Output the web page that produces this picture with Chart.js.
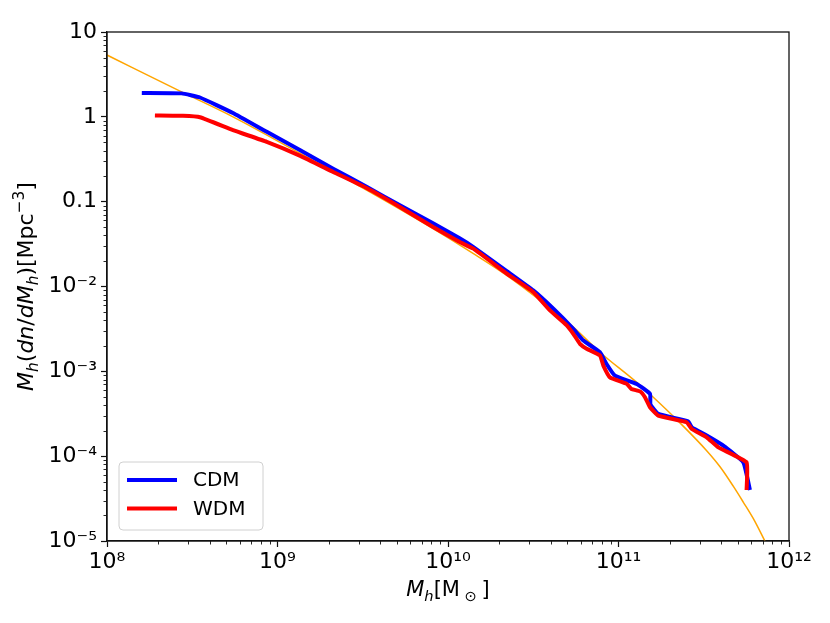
<!DOCTYPE html>
<html>
<head>
<meta charset="utf-8">
<script src="https://cdn.jsdelivr.net/npm/chart.js@4.4.1/dist/chart.umd.min.js"></script>
<style>
  html, body { margin: 0; padding: 0; background: #fff; }
  #wrap { width: 830px; height: 623px; }
</style>
</head>
<body>
<div id="wrap"><canvas id="hmf"></canvas></div>
<script>
// halo mass function
const cdmMass = [1.60e8, 2.74e8, 3.51e8, 5.48e8, 8.65e8, 1.36e9, 2.12e9, 3.35e9, 5.22e9, 8.17e9,
  1.17e10, 1.41e10, 2.21e10, 3.16e10, 4.15e10, 5.43e10, 6.22e10, 7.78e10, 8.51e10, 9.53e10,
  1.28e11, 1.53e11, 1.54e11, 1.71e11, 2.56e11, 2.69e11, 3.29e11, 4.12e11, 5.40e11, 5.90e11];
const cdmDens = [1.91, 1.89, 1.69, 1.11, 0.665, 0.405, 0.245, 0.149, 0.0906, 0.0556,
  0.0370, 0.0292, 0.0152, 9.0e-3, 5.47e-3, 3.17e-3, 2.31e-3, 1.68e-3, 1.22e-3, 8.9e-4,
  7.1e-4, 5.42e-4, 4.06e-4, 3.15e-4, 2.58e-4, 2.19e-4, 1.75e-4, 1.33e-4, 8.45e-5, 3.99e-5];

const wdmMass = [1.91e8, 2.79e8, 3.51e8, 5.48e8, 8.65e8, 1.36e9, 2.12e9, 3.35e9, 5.22e9, 8.17e9,
  1.17e10, 1.41e10, 2.21e10, 3.16e10, 3.96e10, 4.97e10, 5.43e10, 5.94e10, 6.50e10, 7.78e10,
  8.15e10, 8.91e10, 1.12e11, 1.19e11, 1.34e11, 1.43e11, 1.53e11, 1.71e11, 2.51e11, 2.69e11,
  3.29e11, 3.85e11, 5.64e11, 5.64e11];
const wdmDens = [1.04, 1.03, 0.99, 0.697, 0.507, 0.347, 0.224, 0.144, 0.0867, 0.0502,
  0.0334, 0.0279, 0.0142, 8.6e-3, 5.22e-3, 3.48e-3, 2.77e-3, 2.11e-3, 1.85e-3, 1.54e-3,
  1.17e-3, 8.5e-4, 7.1e-4, 6.2e-4, 5.8e-4, 4.94e-4, 3.77e-4, 3.0e-4, 2.51e-4, 2.09e-4,
  1.67e-4, 1.27e-4, 8.45e-5, 3.99e-5];

// orange fit curve
const fitMass = [1e8, 2.68e8, 5.48e8, 1.36e9, 3.35e9, 8.17e9, 1.41e10, 2.21e10, 3.47e10,
  5.43e10, 7.78e10, 1.28e11, 1.60e11, 2.34e11, 3.29e11, 3.94e11, 4.71e11, 5.40e11, 6.18e11, 7.33e11];
const fitDens = [5.35, 2.01, 1.0, 0.37, 0.136, 0.0481, 0.0244, 0.0135, 6.85e-3,
  3.32e-3, 1.68e-3, 7.4e-4, 4.94e-4, 2.37e-4, 1.16e-4, 7.5e-5, 4.43e-5, 2.86e-5, 1.83e-5, 9.4e-6];

const xMajor = [1e8, 1e9, 1e10, 1e11, 1e12];
const xLabels = ['10⁸', '10⁹', '10¹⁰', '10¹¹', '10¹²'];
const yMajor = [1e-5, 1e-4, 1e-3, 1e-2, 0.1, 1, 10];
const yLabels = ['10⁻⁵', '10⁻⁴', '10⁻³', '10⁻²', '0.1', '1', '10'];

const FONT = 'DejaVu Sans';

function pts(xs, ys) {
  return xs.map((x, i) => ({ x: x, y: ys[i] }));
}

// mixed italic / sub / sup text, centred on (0,0) baseline
function drawRich(ctx, parts, size) {
  const fontOf = p => (p.i ? 'italic ' : '') + ((p.sub || p.sup) ? size * 0.7 : size) + 'px "' + FONT + '"';
  let total = 0;
  parts.forEach(p => { ctx.font = fontOf(p); total += ctx.measureText(p.t).width; });
  let x = -total / 2;
  ctx.textBaseline = 'alphabetic';
  ctx.textAlign = 'left';
  parts.forEach(p => {
    ctx.font = fontOf(p);
    let dy = 0;
    if (p.sub) dy = size * 0.22;
    if (p.sup) dy = -size * 0.42;
    ctx.fillText(p.t, x, dy);
    x += ctx.measureText(p.t).width;
  });
}

const xTitle = [{ t: 'M', i: 1 }, { t: 'h', i: 1, sub: 1 }, { t: '[M' }, { t: ' ⊙ ', sub: 1 }, { t: ']' }];
const yTitle = [{ t: 'M', i: 1 }, { t: 'h', i: 1, sub: 1 }, { t: '(' }, { t: 'dn', i: 1 }, { t: '/' },
  { t: 'dM', i: 1 }, { t: 'h', i: 1, sub: 1 }, { t: ')' }, { t: '[Mpc' }, { t: '−3', sup: 1 }, { t: ']' }];

const decor = {
  id: 'decor',
  afterDraw(chart) {
    const ctx = chart.ctx;
    const a = chart.chartArea;
    const xs = chart.scales.x, ys = chart.scales.y;
    ctx.save();
    // frame
    ctx.strokeStyle = '#111';
    ctx.lineWidth = 1.3;
    ctx.strokeRect(a.left, a.top, a.right - a.left, a.bottom - a.top);
    // minor ticks
    ctx.lineWidth = 0.9;
    ctx.beginPath();
    for (let n = 8; n < 12; n++) {
      for (let k = 2; k < 10; k++) {
        const px = Math.round(xs.getPixelForValue(k * Math.pow(10, n))) + 0.5;
        ctx.moveTo(px, a.bottom);
        ctx.lineTo(px, a.bottom + 3.5);
      }
    }
    for (let n = -5; n < 1; n++) {
      for (let k = 2; k < 10; k++) {
        const py = Math.round(ys.getPixelForValue(k * Math.pow(10, n))) + 0.5;
        ctx.moveTo(a.left, py);
        ctx.lineTo(a.left - 3.5, py);
      }
    }
    ctx.stroke();

    // axis titles
    ctx.fillStyle = '#000';
    ctx.save();
    ctx.translate((a.left + a.right) / 2, 596);
    drawRich(ctx, xTitle, 21);
    ctx.restore();
    ctx.save();
    ctx.translate(33, (a.top + a.bottom) / 2);
    ctx.rotate(-Math.PI / 2);
    drawRich(ctx, yTitle, 22);
    ctx.restore();

    // legend box, lower left
    const bx = a.left + 12, by = a.bottom - 79, bw = 144, bh = 68, r = 4;
    ctx.beginPath();
    ctx.moveTo(bx + r, by);
    ctx.arcTo(bx + bw, by, bx + bw, by + bh, r);
    ctx.arcTo(bx + bw, by + bh, bx, by + bh, r);
    ctx.arcTo(bx, by + bh, bx, by, r);
    ctx.arcTo(bx, by, bx + bw, by, r);
    ctx.closePath();
    ctx.fillStyle = 'rgba(255,255,255,0.8)';
    ctx.fill();
    ctx.strokeStyle = '#d0d0d0';
    ctx.lineWidth = 1;
    ctx.stroke();
    const items = chart.data.datasets.filter(d => d.label).sort((p, q) => p.legendRank - q.legendRank);
    items.forEach((d, i) => {
      const ly = by + 18 + i * 28.5;
      ctx.strokeStyle = d.borderColor;
      ctx.lineWidth = 4;
      ctx.beginPath();
      ctx.moveTo(bx + 8, ly);
      ctx.lineTo(bx + 58, ly);
      ctx.stroke();
      ctx.fillStyle = '#000';
      ctx.font = '20px "' + FONT + '"';
      ctx.textBaseline = 'middle';
      ctx.textAlign = 'left';
      ctx.fillText(d.label, bx + 74, ly + 1);
    });
    ctx.restore();
  }
};

const ctx = document.getElementById('hmf').getContext('2d');

const config = {
  type: 'line',
  data: {
    datasets: [{
      label: 'WDM',
      legendRank: 2,
      data: pts(wdmMass, wdmDens),
      borderColor: '#ff0000',
      borderWidth: 4,
      pointRadius: 0,
      tension: 0.12,
      order: 1
    }, {
      label: 'CDM',
      legendRank: 1,
      data: pts(cdmMass, cdmDens),
      borderColor: '#0000ff',
      borderWidth: 4,
      pointRadius: 0,
      tension: 0.12,
      order: 2
    }, {
      data: pts(fitMass, fitDens),
      borderColor: '#ffa500',
      borderWidth: 1.5,
      pointRadius: 0,
      cubicInterpolationMode: 'monotone',
      order: 3
    }]
  },
  options: {
    responsive: true,
    maintainAspectRatio: false,
    animation: false,
    layout: { padding: { left: 0, top: 32, right: 41, bottom: 0 } },
    scales: {
      x: {
        type: 'logarithmic',
        min: 1e8,
        max: 1e12,
        afterFit: s => { s.height = 82; },
        afterBuildTicks: s => { s.ticks = xMajor.map(v => ({ value: v })); },
        grid: { drawOnChartArea: false, drawTicks: true, tickLength: 6, tickColor: '#111', tickWidth: 1.2 },
        border: { display: true, color: '#111', width: 1.3 },
        ticks: {
          color: '#000',
          padding: 2,
          maxRotation: 0,
          autoSkip: false,
          font: { family: FONT, size: 22 },
          callback: function(value) {
            const i = xMajor.indexOf(value);
            return i >= 0 ? xLabels[i] : '';
          }
        }
      },
      y: {
        type: 'logarithmic',
        min: 1e-5,
        max: 10,
        afterFit: s => { s.width = 107; },
        afterBuildTicks: s => { s.ticks = yMajor.map(v => ({ value: v })); },
        grid: { drawOnChartArea: false, drawTicks: true, tickLength: 6, tickColor: '#111', tickWidth: 1.2 },
        border: { display: true, color: '#111', width: 1.3 },
        ticks: {
          color: '#000',
          padding: 4,
          autoSkip: false,
          font: { family: FONT, size: 22 },
          callback: function(value) {
            const i = yMajor.findIndex(v => Math.abs(v - value) / v < 1e-6);
            return i >= 0 ? yLabels[i] : '';
          }
        }
      }
    },
    plugins: {
      legend: { display: false },
      tooltip: { enabled: false }
    }
  },
  plugins: [decor]
};

const hmfChart = new Chart(ctx, config);
</script>
</body>
</html>
